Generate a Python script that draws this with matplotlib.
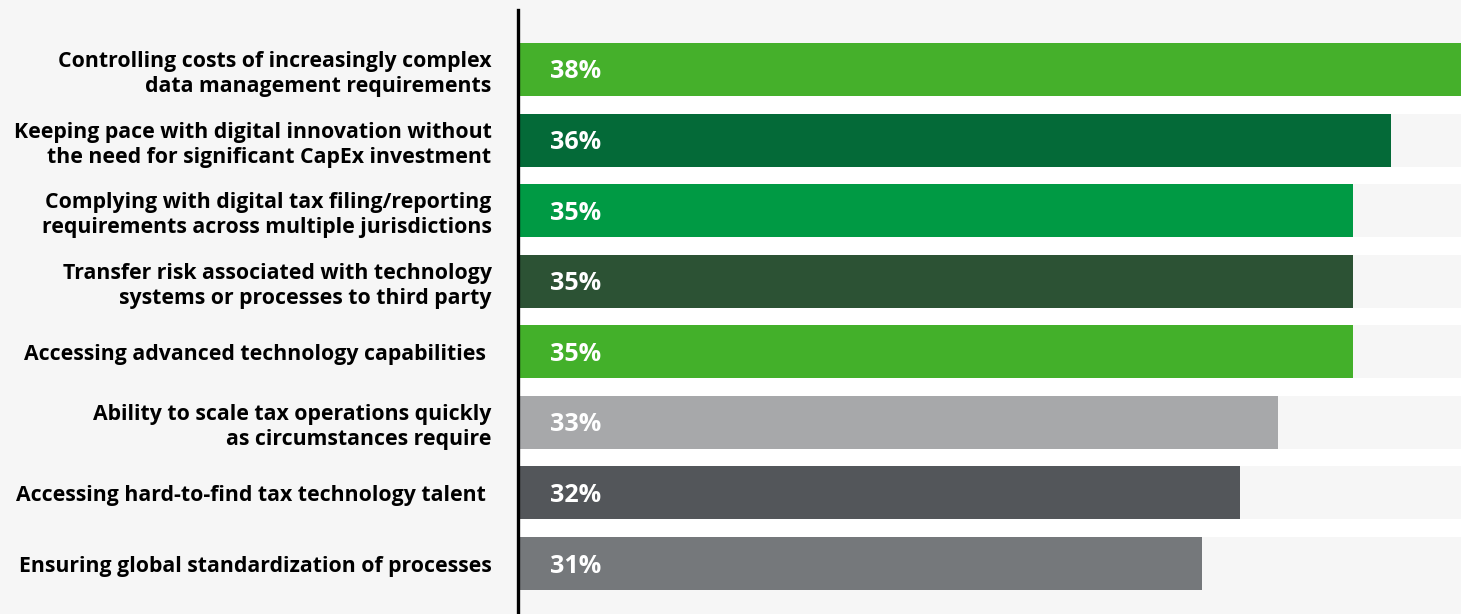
import matplotlib.pyplot as plt
from matplotlib.lines import Line2D

labels = [
    "Controlling costs of increasingly complex\ndata management requirements",
    "Keeping pace with digital innovation without\nthe need for significant CapEx investment",
    "Complying with digital tax filing/reporting\nrequirements across multiple jurisdictions",
    "Transfer risk associated with technology\nsystems or processes to third party",
    "Accessing advanced technology capabilities ",
    "Ability to scale tax operations quickly\nas circumstances require",
    "Accessing hard-to-find tax technology talent ",
    "Ensuring global standardization of processes",
]
values = [38, 36, 35, 35, 35, 33, 32, 31]
colors = ["#45b02b", "#046a38", "#009a44", "#2c5234",
          "#43b02a", "#a7a8aa", "#53565a", "#75787b"]

bg = "#f6f6f6"
plt.rcParams['font.family'] = ['Open Sans', 'DejaVu Sans']

fig = plt.figure(figsize=(14.61, 6.14), dpi=100, facecolor=bg)
ax = fig.add_axes([518 / 1461, 1 - 590 / 614, 1 - 518 / 1461, (590 - 43) / 614])
ax.set_facecolor("white")

# the visible axis range does not start at zero in the original
x0, x1 = 12.88, 37.86
pos = list(range(len(values)))
h = 0.75
ax.barh(pos, [x1] * len(values), height=h, color=bg, zorder=1)
ax.barh(pos, values, height=h, color=colors, zorder=2)

for y, v in zip(pos, values):
    ax.text(0.034, y + 0.035, f"{v}%", color="white", fontsize=18,
            fontweight="bold", va="center", ha="left", zorder=3,
            transform=ax.get_yaxis_transform())

ax.set_xlim(x0, x1)
ax.set_ylim(len(values) - 1 + h / 2, -h / 2)
ax.set_yticks(pos)
ax.set_yticklabels(labels, fontsize=15.3, fontweight="bold", ha="right",
                   linespacing=1.27)
ax.tick_params(axis="y", length=0, pad=19)
ax.set_xticks([])
for s in ax.spines.values():
    s.set_visible(False)

# vertical axis line running past the plot area
fig.add_artist(Line2D([518 / 1461, 518 / 1461], [0, 1 - 10 / 614],
                      color="black", linewidth=2.4, transform=fig.transFigure))

fig.savefig("out.png", dpi=100, facecolor=bg)
